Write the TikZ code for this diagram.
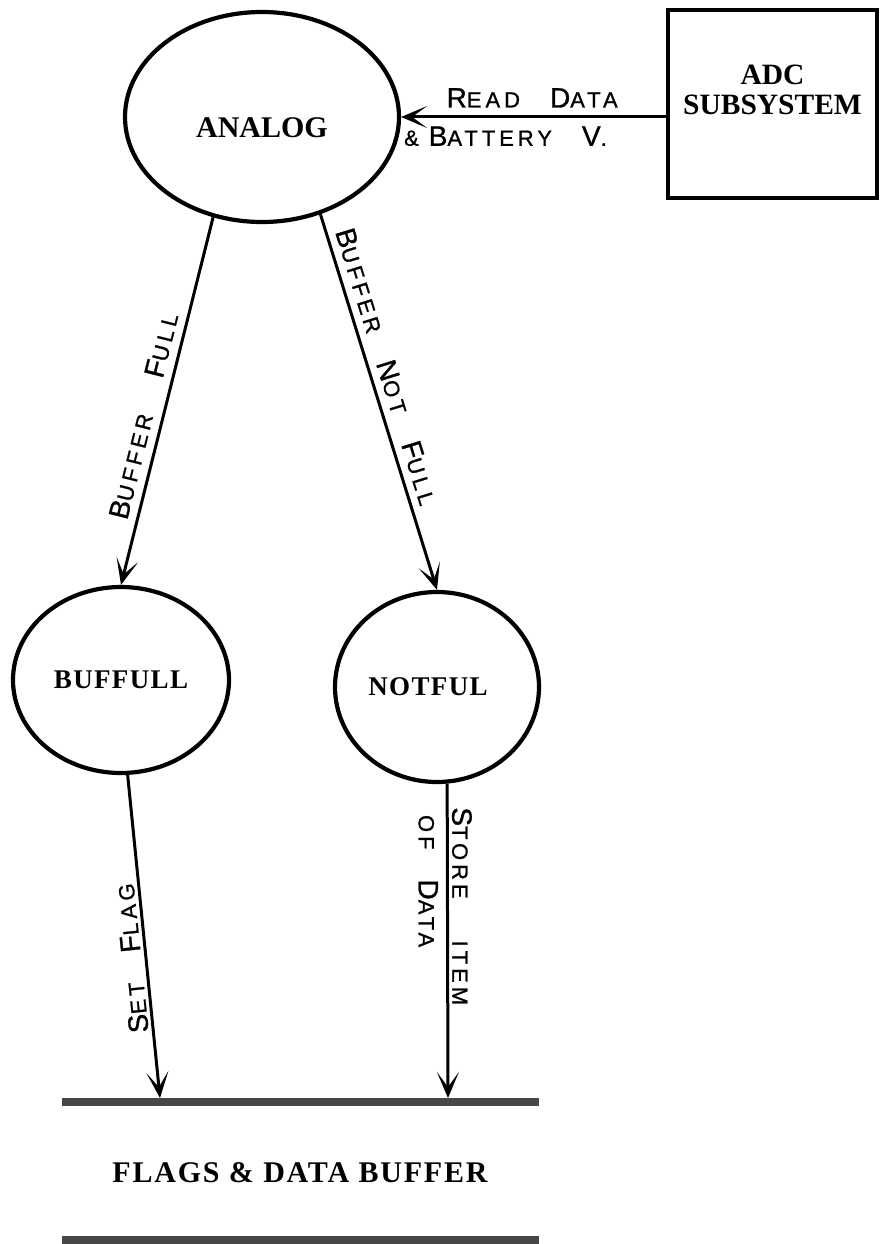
\documentclass[tikz,border=0pt]{standalone}
\usepackage{fontspec}
\setmainfont{Liberation Serif}
\newfontfamily\handfont[LetterSpace=18,FakeBold=1]{Liberation Sans}
\usetikzlibrary{arrows.meta,shapes.geometric,calc}

% larger initial capital of the hand lettering
\newcommand\hcap[1]{{\fontsize{28}{28}\selectfont #1}}
% gap between hand-lettered words
\newcommand\wgap{\hspace{30pt}}
% shift a label vertically without changing its box
\newcommand\nudge[2]{\raisebox{#1}[\height][\depth]{#2}}

\tikzset{
  flowtip/.tip={Stealth[length=26pt,width=22pt,inset=15pt,fill=black!45]},
}

\begin{document}
\begin{tikzpicture}[x=1pt,y=-1pt,
  bubble/.style={ellipse,draw,line width=4.2pt,inner sep=0pt,
    font=\bfseries\fontsize{27}{30}\selectfont\addfontfeature{LetterSpace=5}},
  extbox/.style={rectangle,draw,line width=4.2pt,inner sep=0pt,
    font=\bfseries\fontsize{29.5}{30}\selectfont},
  flow/.style={line width=3pt,arrows={-flowtip}},
  hand/.style={font=\handfont\fontsize{22}{24}\selectfont,inner xsep=0pt},
  storeline/.style={line width=8.5pt,draw=black!72}]

\useasboundingbox (0,0) rectangle (880,1244);

% processes and the external entity
\node[bubble,minimum width=274pt,minimum height=210pt,
      font=\bfseries\fontsize{30}{32}\selectfont] (analog) at (262,117)
      {\nudge{-11pt}{ANALOG}};
\node[bubble,minimum width=216pt,minimum height=186pt] (buffull) at (121,680) {BUFFULL};
\node[bubble,minimum width=204pt,minimum height=190pt] (notful) at (437,687)
      {\hspace*{-18pt}NOTFUL};
\node[extbox,minimum width=209pt,minimum height=188pt] (adc) at (772.5,104)
      {\nudge{10pt}{\begin{tabular}{@{}c@{}}ADC\\SUBSYSTEM\end{tabular}}};

% data store
\coordinate (bufL) at (62,1102);
\coordinate (bufR) at (539,1102);
\coordinate (bufL2) at (62,1240);
\coordinate (bufR2) at (539,1240);
\draw[storeline] (bufL) -- (bufR);
\draw[storeline] (bufL2) -- (bufR2);
\node[font=\bfseries\fontsize{30}{32}\selectfont\addfontfeature{LetterSpace=6}]
      (bufname) at (300,1173) {FLAGS \& DATA BUFFER};
\coordinate (flagin) at (160,1098);
\coordinate (datain) at (448,1098);

% data flows
\draw[flow] (adc.west |- analog.east) --
  node[hand,pos=0.505,anchor=south,inner ysep=8pt]
      {\hcap{R}EAD\wgap\hcap{D}ATA}
  node[hand,pos=0.606,anchor=north,inner ysep=8pt]
      {\&\hspace{10pt}\hcap{B}ATTERY\wgap\hcap{V}.}
  (analog.east);

\draw[flow] (analog.244.6) --
  node[hand,pos=0.553,sloped,anchor=south,inner ysep=8pt]
      {\hcap{B}UFFER\hspace{38pt}\hcap{F}ULL}
  (buffull.north);

\draw[flow] (analog.-59) --
  node[hand,pos=0.42,sloped,anchor=south,inner ysep=7pt]
      {\hcap{B}UFFER\wgap\hcap{N}OT\wgap\hcap{F}ULL}
  (notful.north);

\draw[flow] (buffull.-86) --
  node[hand,pos=0.563,rotate=95.8,anchor=south,inner ysep=3pt]
      {\hcap{S}ET\wgap\hcap{F}LAG}
  (flagin);

\draw[flow] (notful.-84) --
  node[hand,pos=0.39,rotate=-90,anchor=south,inner ysep=3pt]
      {\hcap{S}TORE\hspace{42pt}ITEM}
  node[hand,pos=0.31,rotate=-90,anchor=north,inner ysep=8pt]
      {OF\hspace{30pt}\hcap{D}ATA}
  (datain);

\end{tikzpicture}
\end{document}
